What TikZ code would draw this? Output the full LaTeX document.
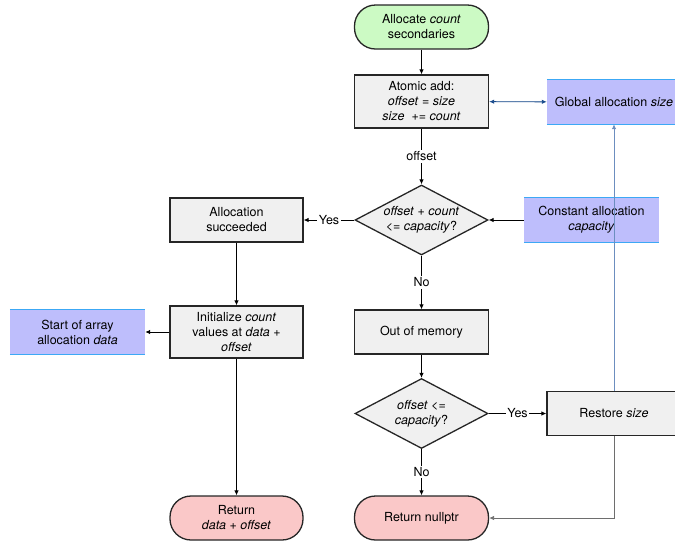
\documentclass[tikz,border=0pt]{standalone}
\usepackage{fontspec}
\setmainfont{TeX Gyre Heros}
\usetikzlibrary{arrows.meta,shapes.geometric}

\definecolor{termgreen}{RGB}{204,250,196}
\definecolor{termred}{RGB}{250,200,200}
\definecolor{boxgray}{RGB}{240,240,240}
\definecolor{varfill}{RGB}{190,190,252}
\definecolor{varedge}{RGB}{60,168,245}
\definecolor{linkblue}{RGB}{25,75,140}
\definecolor{backblue}{RGB}{108,142,191}
\definecolor{backgray}{RGB}{110,110,110}

\begin{document}
\begin{tikzpicture}[x=1pt, y=-1pt,
		box/.style={shape=rectangle, draw=black!85, line width=1.3pt, fill=boxgray, align=center, font=\fontsize{12.5}{15}\selectfont, minimum width=134pt, minimum height=44pt, inner sep=2pt},
		term/.style={box, rounded corners=21pt},
		dec/.style={shape=diamond, draw=black!85, line width=1.3pt, fill=boxgray, align=center, font=\fontsize{12.5}{15}\selectfont, shape aspect=1.9, inner sep=-3pt, minimum width=133pt, minimum height=70pt},
		var/.style={shape=rectangle, fill=varfill, align=center, font=\fontsize{12.5}{15}\selectfont, minimum width=134pt, minimum height=44pt},
		varline/.style={draw=varedge, line width=1.2pt},
		lbl/.style={fill=white, inner sep=1.5pt, font=\fontsize{12.5}{15}\selectfont},
		arr/.style={-{Latex[length=5pt,width=4.5pt]}, line width=0.9pt}]
			\useasboundingbox (0, 0) rectangle (675, 542);
			\node[term, fill=termgreen](Alloc) at (421.5, 27){Allocate \textit{count}\\secondaries};
			\node[box, minimum height=53pt](Atomic) at (421.5, 101.5){Atomic add:\\\textit{offset} = \textit{size}\\\textit{size}~~+= \textit{count}};
			\node[var](Global) at (614, 102){Global allocation \textit{size}};
			\node[dec](Fits) at (421.5, 220){\textit{offset} + \textit{count}\\<= \textit{capacity}?};
			\node[var, minimum width=135pt](Capacity) at (591.5, 220){Constant allocation\\\textit{capacity}};
			\node[box, minimum width=133pt](Success) at (236.5, 220){Allocation\\succeeded};
			\node[box, minimum width=133pt, minimum height=52pt](Init) at (236.5, 332){Initialize \textit{count}\\values at \textit{data} +\\\textit{offset}};
			\node[var, minimum width=135pt](Data) at (77.5, 332){Start of array\\allocation \textit{data}};
			\node[box](OOM) at (421.5, 332){Out of memory};
			\node[dec](Fits2) at (421.5, 413.5){\textit{offset} <=\\\textit{capacity}?};
			\node[box](Restore) at (614, 413.5){Restore \textit{size}};
			\node[term, fill=termred](Null) at (421.5, 518){Return nullptr};
			\node[term, fill=termred, minimum width=133pt](Ret) at (236.5, 518){Return\\\textit{data} + \textit{offset}};
			% top and bottom edges of the variable boxes
			\draw[varline] (Global.north west) -- (Global.north east);
			\draw[varline] (Global.south west) -- (Global.south east);
			\draw[varline] (Capacity.north west) -- (Capacity.north east);
			\draw[varline] (Capacity.south west) -- (Capacity.south east);
			\draw[varline] (Data.north west) -- (Data.north east);
			\draw[varline] (Data.south west) -- (Data.south east);
			% flow
			\draw[arr] (Alloc) -- (Atomic);
			\draw[{Latex[length=5pt,width=4.5pt]}-{Latex[length=5pt,width=4.5pt]}, line width=0.9pt, draw=linkblue, fill=linkblue] (Atomic) -- (Global);
			\draw[arr] (Atomic) -- node[lbl]{offset} (Fits);
			\draw[arr] (Capacity) -- (Fits);
			\draw[arr] (Fits) -- node[lbl]{Yes} (Success);
			\draw[arr] (Fits) -- node[lbl]{No} (OOM);
			\draw[arr] (Success) -- (Init);
			\draw[arr] (Init) -- (Data);
			\draw[arr] (Init) -- (Ret);
			\draw[arr] (OOM) -- (Fits2);
			\draw[arr] (Fits2) -- node[lbl]{Yes} (Restore);
			\draw[arr] (Fits2) -- node[lbl]{No} (Null);
			\draw[arr, draw=backgray] (Restore) |- (Null);
			\draw[arr, draw=backblue, fill=backblue] (Restore) -- (Global);
		\end{tikzpicture}
\end{document}
